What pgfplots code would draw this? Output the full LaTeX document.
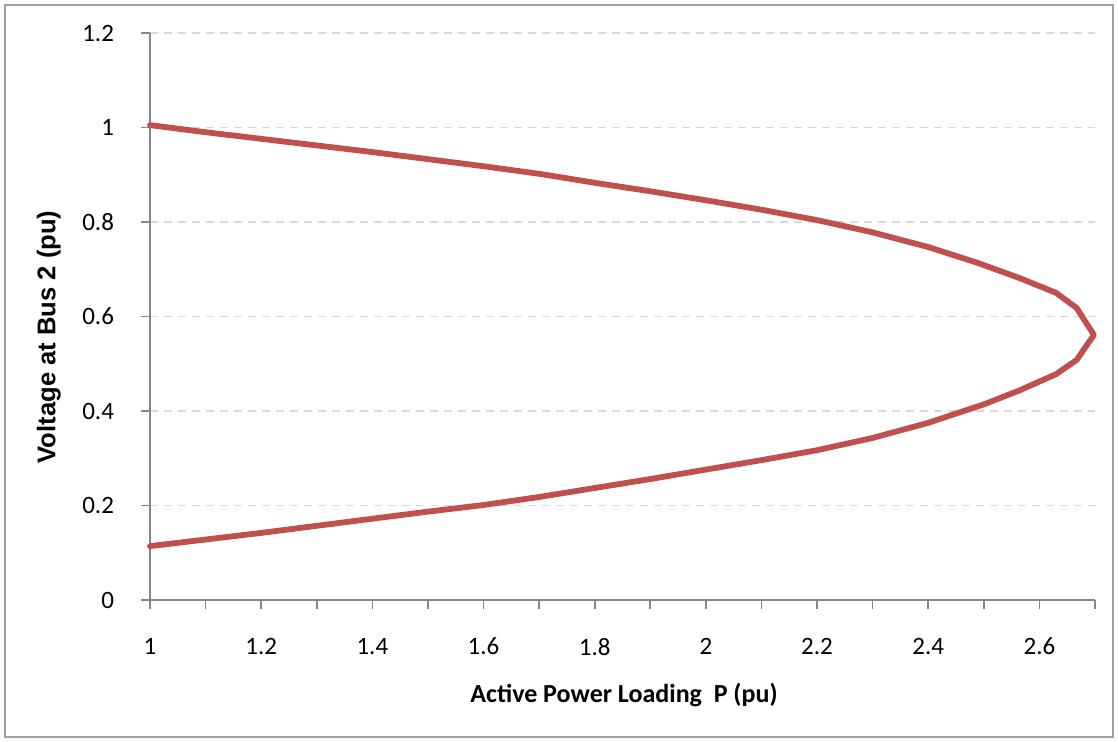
\documentclass[border=0pt]{standalone}
\usepackage{fontspec}
\setmainfont{Carlito}
\newfontfamily\arialfont{Liberation Sans}
\usepackage{pgfplots}
\pgfplotsset{compat=1.18}
\definecolor{curvered}{RGB}{192,80,77}
\definecolor{axisgray}{RGB}{134,134,134}
\definecolor{gridgray}{RGB}{217,217,217}
\definecolor{framegray}{RGB}{160,160,160}
\begin{document}
\begin{tikzpicture}
\useasboundingbox (-75pt,-71pt) rectangle (484pt,300pt);
\draw[framegray, line width=0.8pt] (-72.5pt,-68.5pt) rectangle (481.5pt,297.5pt);
\begin{axis}[
  at={(0,0)}, anchor=origin,
  scale only axis, width=472.5pt, height=283.5pt,
  xmin=1, xmax=2.7, ymin=0, ymax=1.2,
  axis x line=bottom, axis y line=left,
  axis line style={axisgray, line width=0.8pt, -},
  xtick={1,1.2,...,2.61},
  minor xtick={1.1,1.3,...,2.71},
  ytick={0,0.2,...,1.21},
  xticklabels={1,1.2,1.4,1.6,1.8,2,2.2,2.4,2.6},
  yticklabels={0,0.2,0.4,0.6,0.8,1,1.2},
  tick align=outside,
  major tick length=4.5pt, minor tick length=4.5pt,
  tick style={axisgray, line width=0.8pt},
  minor tick style={axisgray, line width=0.8pt},
  ymajorgrids,
  major grid style={gridgray, line width=0.8pt, dash pattern=on 4pt off 3pt},
  /pgf/number format/assume math mode=true,
  tick label style={font=\fontsize{12.5}{14}\selectfont, text=black},
  xticklabel style={yshift=-11pt},
  yticklabel style={xshift=-10pt},
  xlabel={Active Power Loading\ \ P (pu)},
  ylabel={\arialfont Voltage at Bus 2 (pu)},
  xlabel style={font=\bfseries\fontsize{13}{15}\selectfont, at={(axis description cs:0.5016,-0.1675)}, anchor=center},
  ylabel style={font=\bfseries\fontsize{12.8}{15}\selectfont, at={(axis description cs:-0.107,0.464)}, anchor=center, rotate=0},
  clip=false,
]
\addplot[curvered, line width=2.9pt, line join=round, line cap=round] coordinates {
(1.000,1.005) (1.100,0.990) (1.200,0.976) (1.300,0.962) (1.400,0.948)
(1.500,0.933) (1.600,0.918) (1.700,0.902) (1.800,0.883) (1.900,0.865)
(2.000,0.846) (2.100,0.826) (2.200,0.804) (2.300,0.778) (2.400,0.747)
(2.490,0.713) (2.565,0.681) (2.630,0.650) (2.667,0.618) (2.698,0.561)
(2.667,0.508) (2.630,0.478) (2.565,0.444) (2.500,0.414) (2.400,0.375)
(2.300,0.343) (2.200,0.317) (2.100,0.296) (2.000,0.276) (1.900,0.256)
(1.800,0.237) (1.700,0.218) (1.600,0.201) (1.500,0.187) (1.400,0.172)
(1.300,0.157) (1.200,0.142) (1.100,0.128) (1.000,0.114)
};
\end{axis}
\end{tikzpicture}
\end{document}
